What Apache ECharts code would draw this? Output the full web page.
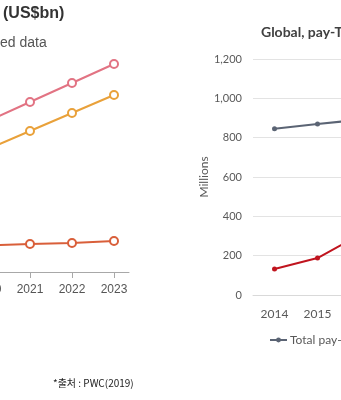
<!DOCTYPE html>
<html>
<head>
<meta charset="utf-8">
<script src="https://cdn.jsdelivr.net/npm/echarts@6/dist/echarts.min.js"></script>
<style>
  html, body { margin: 0; padding: 0; background: #ffffff; }
  #chart { width: 341px; height: 400px; }
</style>
</head>
<body>
<div id="chart"></div>
<script>
// Left panel: revenue outlook (US$bn), years 2020-2023
const revenueYears = [2020, 2021, 2022, 2023];
const revenuePink = [60.4, 68.0, 75.6, 83.2];
const revenueOrange = [49.2, 56.4, 63.6, 70.8];
const revenueRed = [10.6, 11.2, 11.6, 12.4];

// Right panel: global pay-TV subscriptions (millions)
const subYears = ['2014', '2015', '2016'];
const payTvTotal = [845, 869, 892];
const subRed = [132, 188, 309];
const subTicks = [0, 200, 400, 600, 800, 1000, 1200];

const chart = echarts.init(document.getElementById('chart'), null, { renderer: 'canvas' });

const hollow = (color) => ({
  type: 'line',
  xAxisIndex: 0,
  yAxisIndex: 0,
  symbol: 'emptyCircle',
  symbolSize: 8,
  lineStyle: { color: color, width: 2 },
  itemStyle: { color: color, borderColor: color, borderWidth: 2 },
  emphasis: { disabled: true },
  silent: true
});

const option = {
  animation: false,
  backgroundColor: '#ffffff',
  textStyle: { fontFamily: 'Liberation Sans, Arial, sans-serif' },
  graphic: [
    {
      type: 'text', left: 3, top: 6,
      style: { text: '(US$bn)', font: 'bold 16px "Liberation Sans", Arial, sans-serif', fill: '#333333' }
    },
    {
      type: 'text', left: 0, top: 36,
      style: { text: 'ed data', font: '14px "Liberation Sans", Arial, sans-serif', fill: '#555555' }
    },
    {
      type: 'text', left: 53, top: 378,
      style: { text: '*출처 : PWC(2019)', font: '10px "Noto Sans CJK KR", sans-serif', fill: '#222222' }
    },
    {
      type: 'text', left: 261, top: 25,
      style: { text: 'Global, pay-TV', font: 'bold 14px Lato, "Open Sans", sans-serif', fill: '#404040' }
    }
  ],
  legend: {
    data: ['Total pay-TV'],
    left: 264,
    top: 329,
    itemWidth: 17,
    itemHeight: 6,
    itemGap: 4,
    textStyle: { fontFamily: 'Lato, "Open Sans", sans-serif', fontSize: 12, color: '#595959', padding: [0, 0, 0, -2] }
  },
  grid: [
    { left: -12, width: 141, top: 22, height: 250, outerBoundsMode: 'none' },
    { left: 253, width: 129, top: 59, height: 236, outerBoundsMode: 'none' }
  ],
  xAxis: [
    {
      type: 'value', gridIndex: 0,
      min: 2020, max: 2023.357, interval: 1,
      splitLine: { show: false },
      axisLine: { show: true, onZero: false, lineStyle: { color: '#a8a8a8', width: 1 } },
      axisTick: { show: true, length: 6, lineStyle: { color: '#a8a8a8' } },
      axisLabel: {
        margin: 12, fontSize: 12, color: '#555555',
        fontFamily: 'Liberation Sans, Arial, sans-serif',
        showMaxLabel: false,
        formatter: (v) => (Number.isInteger(v) && revenueYears.includes(v)) ? String(v) : ''
      }
    },
    {
      type: 'category', gridIndex: 1, data: subYears, boundaryGap: true,
      axisLine: { show: true, lineStyle: { color: '#d9d9d9' } },
      axisTick: { show: false },
      axisLabel: { margin: 13, fontSize: 12, color: '#595959', fontFamily: 'Lato, "Open Sans", sans-serif' }
    }
  ],
  yAxis: [
    {
      type: 'value', gridIndex: 0, min: 0, max: 100,
      show: false,
      splitLine: { show: false }
    },
    {
      type: 'value', gridIndex: 1,
      min: subTicks[0], max: subTicks[subTicks.length - 1], interval: 200,
      name: 'Millions', nameLocation: 'middle', nameRotate: 90, nameGap: 41,
      nameTextStyle: { fontSize: 12, color: '#595959', fontFamily: 'Lato, "Open Sans", sans-serif' },
      axisLine: { show: false },
      axisTick: { show: false },
      splitLine: { show: true, lineStyle: { color: '#e3e3e3', width: 1 } },
      axisLabel: {
        margin: 11, fontSize: 11, color: '#595959',
        fontFamily: 'Lato, "Open Sans", sans-serif',
        formatter: (v) => v.toLocaleString('en-US')
      }
    }
  ],
  series: [
    Object.assign(hollow('#e27383'), { name: 'Pink', data: revenueYears.map((y, i) => [y, revenuePink[i]]) }),
    Object.assign(hollow('#e9a13a'), { name: 'Orange', data: revenueYears.map((y, i) => [y, revenueOrange[i]]) }),
    Object.assign(hollow('#d95f3a'), { name: 'Red', data: revenueYears.map((y, i) => [y, revenueRed[i]]) }),
    {
      name: 'Total pay-TV', type: 'line', xAxisIndex: 1, yAxisIndex: 1,
      data: payTvTotal,
      symbol: 'circle', symbolSize: 5,
      lineStyle: { color: '#5b6474', width: 2 },
      itemStyle: { color: '#5b6474' },
      silent: true
    },
    {
      name: 'Subscriptions', type: 'line', xAxisIndex: 1, yAxisIndex: 1,
      data: subRed,
      symbol: 'circle', symbolSize: 5,
      lineStyle: { color: '#c0141e', width: 2 },
      itemStyle: { color: '#c0141e' },
      silent: true
    }
  ]
};

chart.setOption(option);
</script>
</body>
</html>
